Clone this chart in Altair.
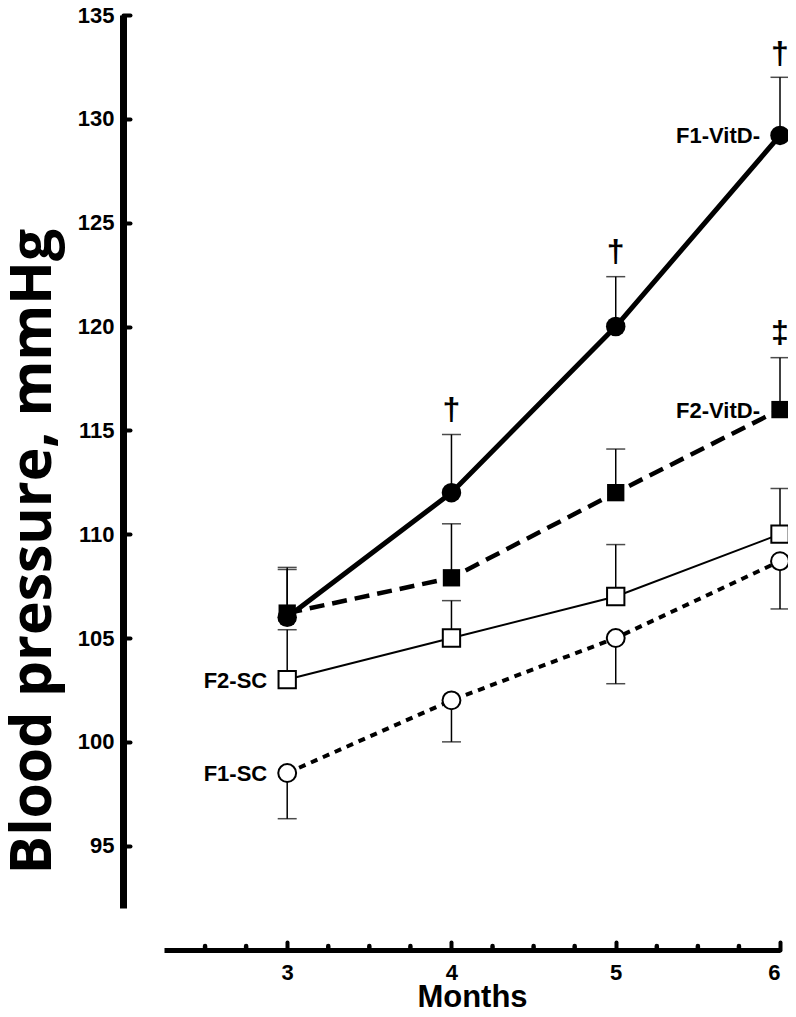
import altair as alt
import pandas as pd

# ---- data ----
months = [3, 4, 5, 6]
series_names = ["F1-VitD-", "F2-VitD-", "F2-SC", "F1-SC"]
f1_vitd = [106.0, 112.0, 120.0, 129.2]
f1_vitd_bar = [108.3, 114.8, 122.4, 132.0]
f2_vitd = [106.2, 107.9, 112.0, 116.0]
f2_vitd_bar = [108.4, 110.5, 114.1, 118.5]
f2_sc = [103.0, 105.0, 107.0, 110.0]
f2_sc_bar = [105.4, 106.8, 109.5, 112.2]
f1_sc = [98.5, 102.0, 105.0, 108.7]
f1_sc_bar = [96.3, 100.0, 102.8, 106.4]

y_ticks = [95, 100, 105, 110, 115, 120, 125, 130, 135]
x_major = [3, 4, 5, 6]
x_minor = [2.5, 2.75, 3.25, 3.5, 3.75, 4.25, 4.5, 4.75, 5.25, 5.5, 5.75]

sig_month = [4, 5, 6, 6]
sig_value = [116.0, 123.6, 133.1, 119.7]
sig_mark = ["†", "†", "†", "‡"]

label_month = [6, 6, 3, 3]
label_value = [129.2, 116.0, 103.0, 98.5]
label_text = ["F1-VitD-", "F2-VitD-", "F2-SC", "F1-SC"]

W, H = 616, 893
YOFF, XOFF = 41, 42

means = {"F1-VitD-": f1_vitd, "F2-VitD-": f2_vitd, "F2-SC": f2_sc, "F1-SC": f1_sc}
bars = {"F1-VitD-": f1_vitd_bar, "F2-VitD-": f2_vitd_bar, "F2-SC": f2_sc_bar, "F1-SC": f1_sc_bar}

rows = []
for s in series_names:
    for m, v, b in zip(months, means[s], bars[s]):
        rows.append({"series": s, "month": m, "bp": v, "bar": b})
df = pd.DataFrame(rows)

xs = alt.Scale(domain=[2.25, 6], nice=False, zero=False)
ys = alt.Scale(domain=[92, 135], nice=False, zero=False)

X = lambda: alt.X("month:Q", scale=xs, axis=None)
Y = lambda: alt.Y("bp:Q", scale=ys, axis=None)

base = alt.Chart(df)

# axis carriers
axis_main = alt.Chart(df).mark_point(opacity=0).encode(
    x=alt.X("month:Q", scale=xs, axis=alt.Axis(
        orient="bottom", offset=XOFF, values=x_major, format="d",
        ticks=False, tickSize=0, domainWidth=5, domainColor="black",
        labelFont="Liberation Sans", labelFontWeight="bold", labelFontSize=22,
        labelColor="black", labelPadding=12, grid=False,
        title="Months", titleFont="Liberation Sans", titleFontWeight="bold",
        titleFontSize=31, titleColor="black", titlePadding=-1)),
    y=alt.Y("bp:Q", scale=ys, axis=alt.Axis(
        orient="left", offset=YOFF, values=y_ticks,
        ticks=False, tickSize=0, domainWidth=7, domainColor="black",
        labelFont="Liberation Sans", labelFontWeight="bold", labelFontSize=22,
        labelColor="black", labelPadding=9, grid=False,
        title="Blood pressure, mmHg", titleFont="Open Sans", titleFontWeight="bold",
        titleFontSize=57, titleColor="black", titleAngle=270,
        titleBaseline="middle", titleAlign="center",
        titleX=-90, titleY=536)),
)

axis_ticks = alt.Chart(df).mark_point(opacity=0).encode(
    x=alt.X("month:Q", scale=xs, axis=alt.Axis(
        orient="top", offset=-(H + XOFF), values=x_major,
        labels=False, domain=False, ticks=True, tickSize=8, tickWidth=4,
        tickCap="round", tickColor="black", grid=False, title=None)),
    y=alt.Y("bp:Q", scale=ys, axis=alt.Axis(
        orient="right", offset=-(W + YOFF), values=y_ticks,
        labels=False, domain=False, ticks=True, tickSize=7, tickWidth=4,
        tickCap="round", tickColor="black", grid=False, title=None)),
)

minor_df = pd.DataFrame({"m": x_minor})
minor = alt.Chart(minor_df).mark_rule(color="black", strokeWidth=4.5, strokeCap="round").encode(
    x=alt.X("m:Q", scale=xs, axis=None),
    y=alt.value(H + XOFF),
    y2=alt.value(H + XOFF - 4),
)

err_rule = base.mark_rule(color="black", strokeWidth=1.5).encode(
    x=X(), y=Y(), y2="bar:Q")
err_cap = base.mark_tick(color="black", orient="horizontal", size=19, thickness=1.5).encode(
    x=X(), y=alt.Y("bar:Q", scale=ys, axis=None))

styles = {
    "F1-VitD-": dict(strokeWidth=5, dash=None, shape="circle", filled=True, size=380),
    "F2-VitD-": dict(strokeWidth=4.5, dash=[15, 8], shape="square", filled=True, size=300),
    "F2-SC": dict(strokeWidth=2, dash=None, shape="square", filled=False, size=300),
    "F1-SC": dict(strokeWidth=4, dash=[7, 6], shape="circle", filled=False, size=320),
}

line_layers = []
point_layers = []
for s in series_names:
    st = styles[s]
    lk = dict(color="black", strokeWidth=st["strokeWidth"])
    if st["dash"]:
        lk["strokeDash"] = st["dash"]
    line_layers.append(
        base.transform_filter(alt.datum.series == s).mark_line(**lk).encode(x=X(), y=Y()))
    if st["filled"]:
        pk = dict(shape=st["shape"], size=st["size"], filled=True, color="black", opacity=1)
    else:
        pk = dict(shape=st["shape"], size=st["size"], filled=True, fill="white",
                  stroke="black", strokeWidth=2, opacity=1)
    point_layers.append(
        base.transform_filter(alt.datum.series == s).mark_point(**pk).encode(x=X(), y=Y()))

lab_df = pd.DataFrame({"month": label_month, "bp": label_value, "t": label_text})
labels = alt.Chart(lab_df).mark_text(
    align="right", baseline="middle", dx=-20, dy=1, font="Liberation Sans",
    fontWeight="bold", fontSize=22, color="black").encode(x=X(), y=Y(), text="t:N")

sig_df = pd.DataFrame({"month": sig_month, "bp": sig_value, "t": sig_mark})
sigs = alt.Chart(sig_df).mark_text(
    align="center", baseline="middle", font="Liberation Sans",
    fontWeight="bold", fontSize=32, color="black").encode(x=X(), y=Y(), text="t:N")

chart = alt.layer(
    axis_main, axis_ticks, minor, err_rule, err_cap,
    *line_layers, *point_layers, labels, sigs
).resolve_axis(x="independent", y="independent").properties(
    width=W, height=H,
    autosize=alt.AutoSizeParams(type="none"),
    padding={"left": 156, "top": 7, "right": 8, "bottom": 101},
).configure_view(strokeWidth=0)

chart.save("out.html", embed_options={"renderer": "svg", "actions": False})
